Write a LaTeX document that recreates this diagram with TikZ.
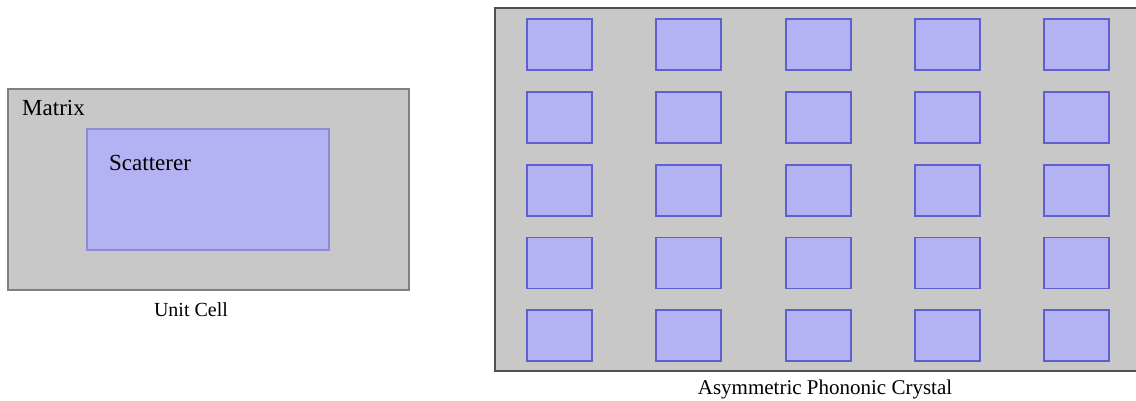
\documentclass[tikz,border=0pt]{standalone}
\usepackage{fontspec}
\setmainfont{Liberation Serif}
\definecolor{matrixgray}{RGB}{200,200,200}
\definecolor{framegray}{RGB}{128,128,128}
\definecolor{darkframe}{RGB}{80,80,80}
\definecolor{scatfill}{RGB}{179,179,243}
\definecolor{scatedge}{RGB}{140,140,215}
\definecolor{celledge}{RGB}{95,95,205}
\tikzset{
  matrixbox/.style={fill=matrixgray,draw=framegray,line width=1.2bp},
  crystalbox/.style={fill=matrixgray,draw=darkframe,line width=1.6bp},
  scatbox/.style={fill=scatfill,draw=scatedge,line width=1.2bp},
  cellbox/.style={fill=scatfill,draw=celledge,line width=1.8bp},
  lbl/.style={inner sep=0pt,font=\fontsize{20bp}{24bp}\selectfont},
  biglbl/.style={inner sep=0pt,font=\fontsize{23bp}{27bp}\selectfont}
}
\begin{document}
\begin{tikzpicture}[x=1bp,y=-1bp]
\useasboundingbox (0,0) rectangle (1136,400);
\begin{scope}
\clip (0,0) rectangle (1136,400);
% unit cell
\draw[matrixbox] (8,89) rectangle (409,290);
\draw[scatbox] (87,129) rectangle (329,250);
\node[biglbl,anchor=base west] (matrixlbl) at (22,115) {Matrix};
\node[biglbl,anchor=base west] (scatlbl) at (109,170) {Scatterer};
\node[lbl,anchor=base] (unitlbl) at (191,316) {Unit Cell};
% crystal
\draw[crystalbox] (495,8) rectangle (1145,371);
\foreach \i in {0,...,4}{
  \foreach \j in {0,...,4}{
    \draw[cellbox] ({527+129.3*\i},{19+72.8*\j}) rectangle ++(65,51);
  }
}
\node[lbl,anchor=base,font=\fontsize{21bp}{25bp}\selectfont] (crystallbl) at (825,394) {Asymmetric Phononic Crystal};
\end{scope}
\end{tikzpicture}
\end{document}
